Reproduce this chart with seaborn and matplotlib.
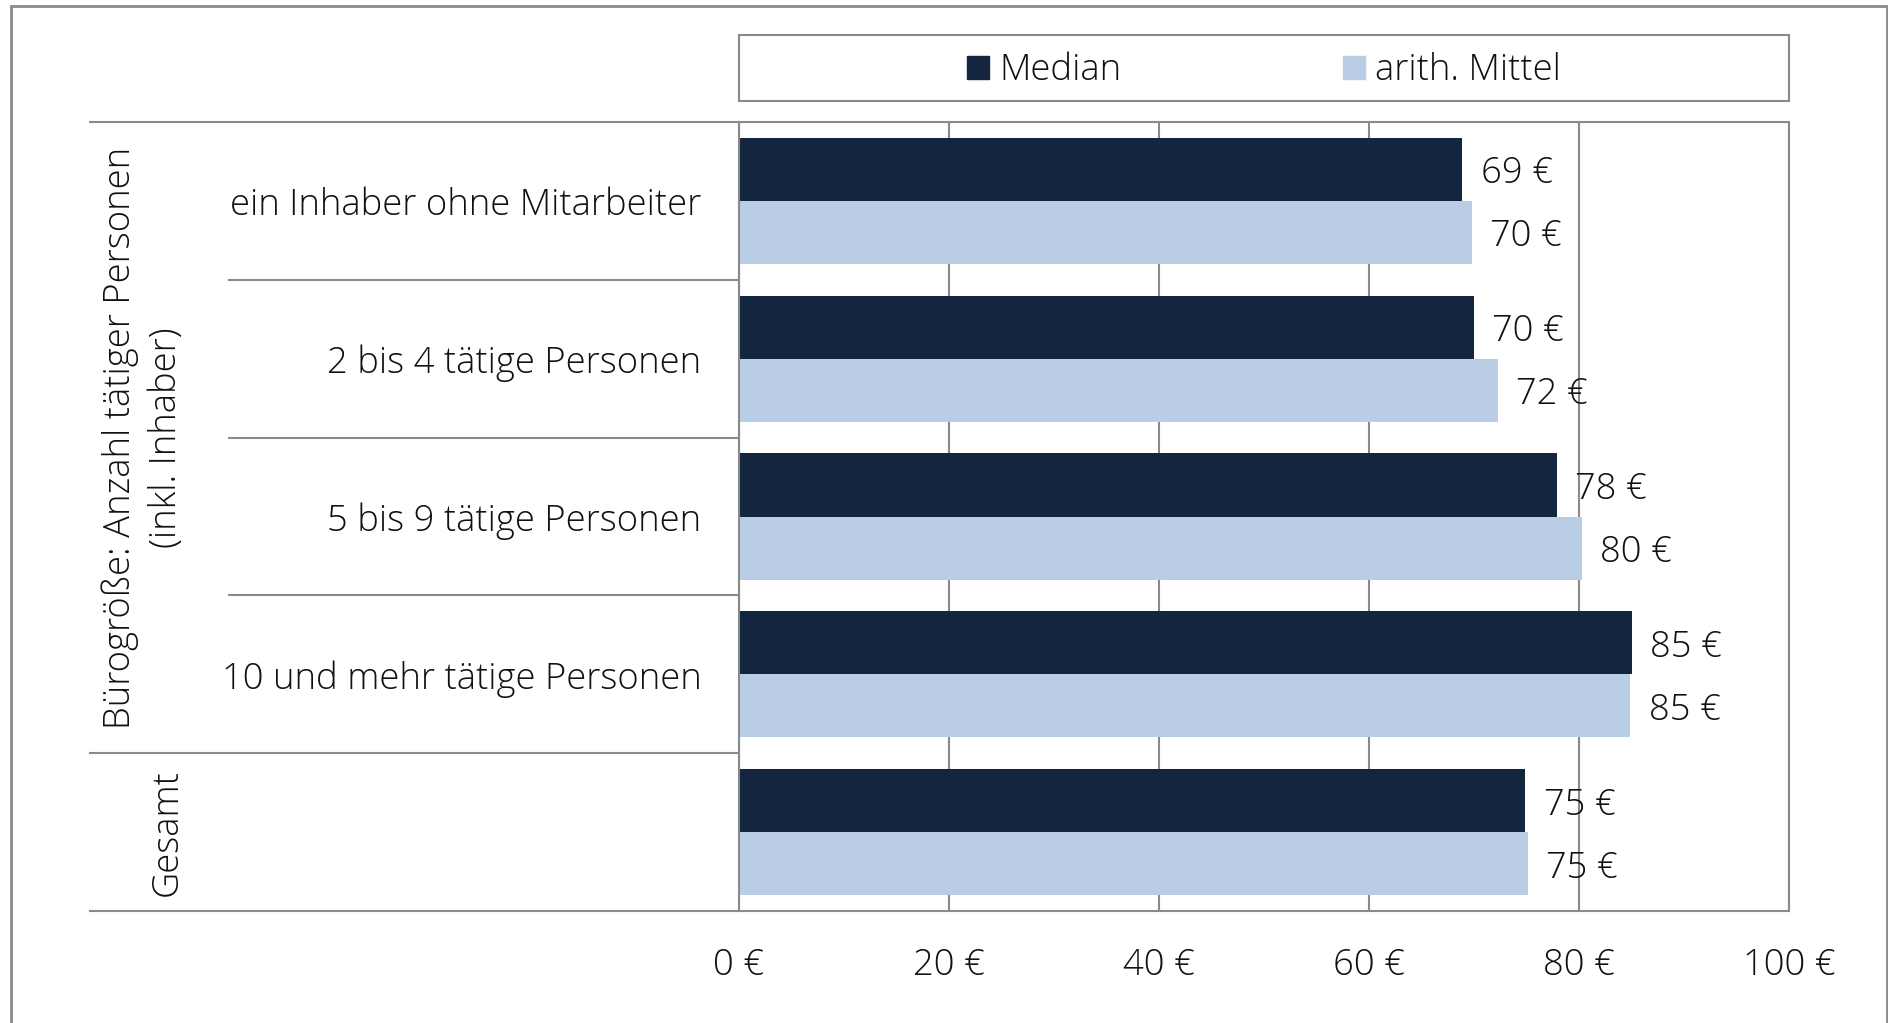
import pandas as pd
import matplotlib
matplotlib.use("Agg")
import matplotlib.pyplot as plt
from matplotlib.patches import Rectangle
import seaborn as sns

# ---------------------------------------------------
# DATA
# ---------------------------------------------------

categories = [
    "ein Inhaber ohne Mitarbeiter",
    "2 bis 4 tätige Personen",
    "5 bis 9 tätige Personen",
    "10 und mehr tätige Personen",
    "Gesamt",
]
tick_labels = [
    "ein Inhaber ohne Mitarbeiter",
    "2 bis 4 tätige Personen",
    "5 bis 9 tätige Personen",
    "10 und mehr tätige Personen",
    "",
]
series = ["Median", "arith. Mittel"]
median_values = [68.9, 70.0, 77.9, 85.0, 74.9]
mean_values = [69.8, 72.3, 80.3, 84.9, 75.1]
x_ticks = [0, 20, 40, 60, 80, 100]
group_label = "Bürogröße: Anzahl tätiger Personen\n(inkl. Inhaber)"
total_label = "Gesamt"

colors = ["#13253F", "#B9CDE5"]
line_color = "#8A8A8A"
text_color = "#111111"

df = pd.DataFrame({
    "Kategorie": categories * 2,
    "Reihe": [series[0]] * len(categories) + [series[1]] * len(categories),
    "Wert": median_values + mean_values,
})

# ---------------------------------------------------
# PLOT
# ---------------------------------------------------

sns.set_style("white")
plt.rcParams["font.family"] = ["Open Sans", "DejaVu Sans"]
plt.rcParams["font.weight"] = "light"
plt.rcParams["text.color"] = text_color

FS = 26.2

fig = plt.figure(figsize=(18.88, 10.23), dpi=100)
ax = fig.add_axes([739 / 1888, 1 - 911 / 1023, 1050 / 1888, 789 / 1023])

sns.barplot(
    data=df, x="Wert", y="Kategorie", hue="Reihe",
    order=categories, hue_order=series, palette=colors,
    orient="h", width=0.8, gap=0, saturation=1, linewidth=0, ax=ax,
)

ax.set_xlim(0, 100)
ax.set_ylim(4.5, -0.5)
ax.set_xticks(x_ticks)
ax.set_xticklabels([f"{t} €" for t in x_ticks], fontsize=FS, color=text_color)
ax.set_yticks(range(len(categories)))
ax.set_yticklabels(tick_labels, fontsize=FS, color=text_color)
ax.tick_params(axis="x", length=0, pad=26)
ax.tick_params(axis="y", length=0, pad=27)
ax.set_xlabel("")
ax.set_ylabel("")

# vertical grid lines
ax.grid(axis="x", color=line_color, linewidth=1.5)
ax.grid(axis="y", visible=False)
ax.set_axisbelow(True)
for side in ["top", "bottom"]:
    ax.spines[side].set_visible(False)
for side in ["left", "right"]:
    ax.spines[side].set_color(line_color)
    ax.spines[side].set_linewidth(1.5)

# value labels (centred on the bar via baseline alignment)
for container in ax.containers:
    vals = [b.get_width() for b in container]
    texts = ax.bar_label(container, labels=[f"{v:.0f} €" for v in vals],
                         padding=13, fontsize=FS, color=text_color)
    for t in texts:
        t.set_va("center_baseline")

# separator lines of the category table
tr = ax.get_yaxis_transform()
x_outer = (89 - 739) / 1050
x_inner = (228 - 739) / 1050
for y, x0, x1 in [(-0.5, x_outer, 1), (0.5, x_inner, 0), (1.5, x_inner, 0),
                  (2.5, x_inner, 0), (3.5, x_outer, 0), (4.5, x_outer, 1)]:
    ax.plot([x0, x1], [y, y], transform=tr, color=line_color,
            linewidth=1.5, clip_on=False, solid_capstyle="butt")

# outer group labels
ax.text((143 - 739) / 1050, 1.5, group_label, transform=tr, rotation=90,
        ha="center", va="center", multialignment="center", fontsize=FS,
        linespacing=1.3)
ax.text((167 - 739) / 1050, 4, total_label, transform=tr, rotation=90,
        ha="center", va="center", fontsize=FS)

# legend inside its own box
ax.get_legend().remove()
handles = [Rectangle((0, 0), 1, 1, color=c) for c in colors]
fig.patches.append(Rectangle((739 / 1888, 1 - 101 / 1023), 1050 / 1888, 66 / 1023,
                             transform=fig.transFigure, fill=False,
                             edgecolor=line_color, linewidth=1.5))
fig.legend(handles, series, loc="center",
           bbox_to_anchor=((739 + 525) / 1888, 1 - 71 / 1023),
           ncol=2, frameon=False, fontsize=FS,
           handlelength=0.6, handleheight=0.6, handletextpad=0.28,
           columnspacing=6.1)

# chart border
fig.patches.append(Rectangle((11 / 1888, -0.02), 1876 / 1888, 1.02 - 6 / 1023,
                             transform=fig.transFigure, fill=False,
                             edgecolor=line_color, linewidth=2))

fig.savefig("out.png", dpi=100, facecolor="white")
